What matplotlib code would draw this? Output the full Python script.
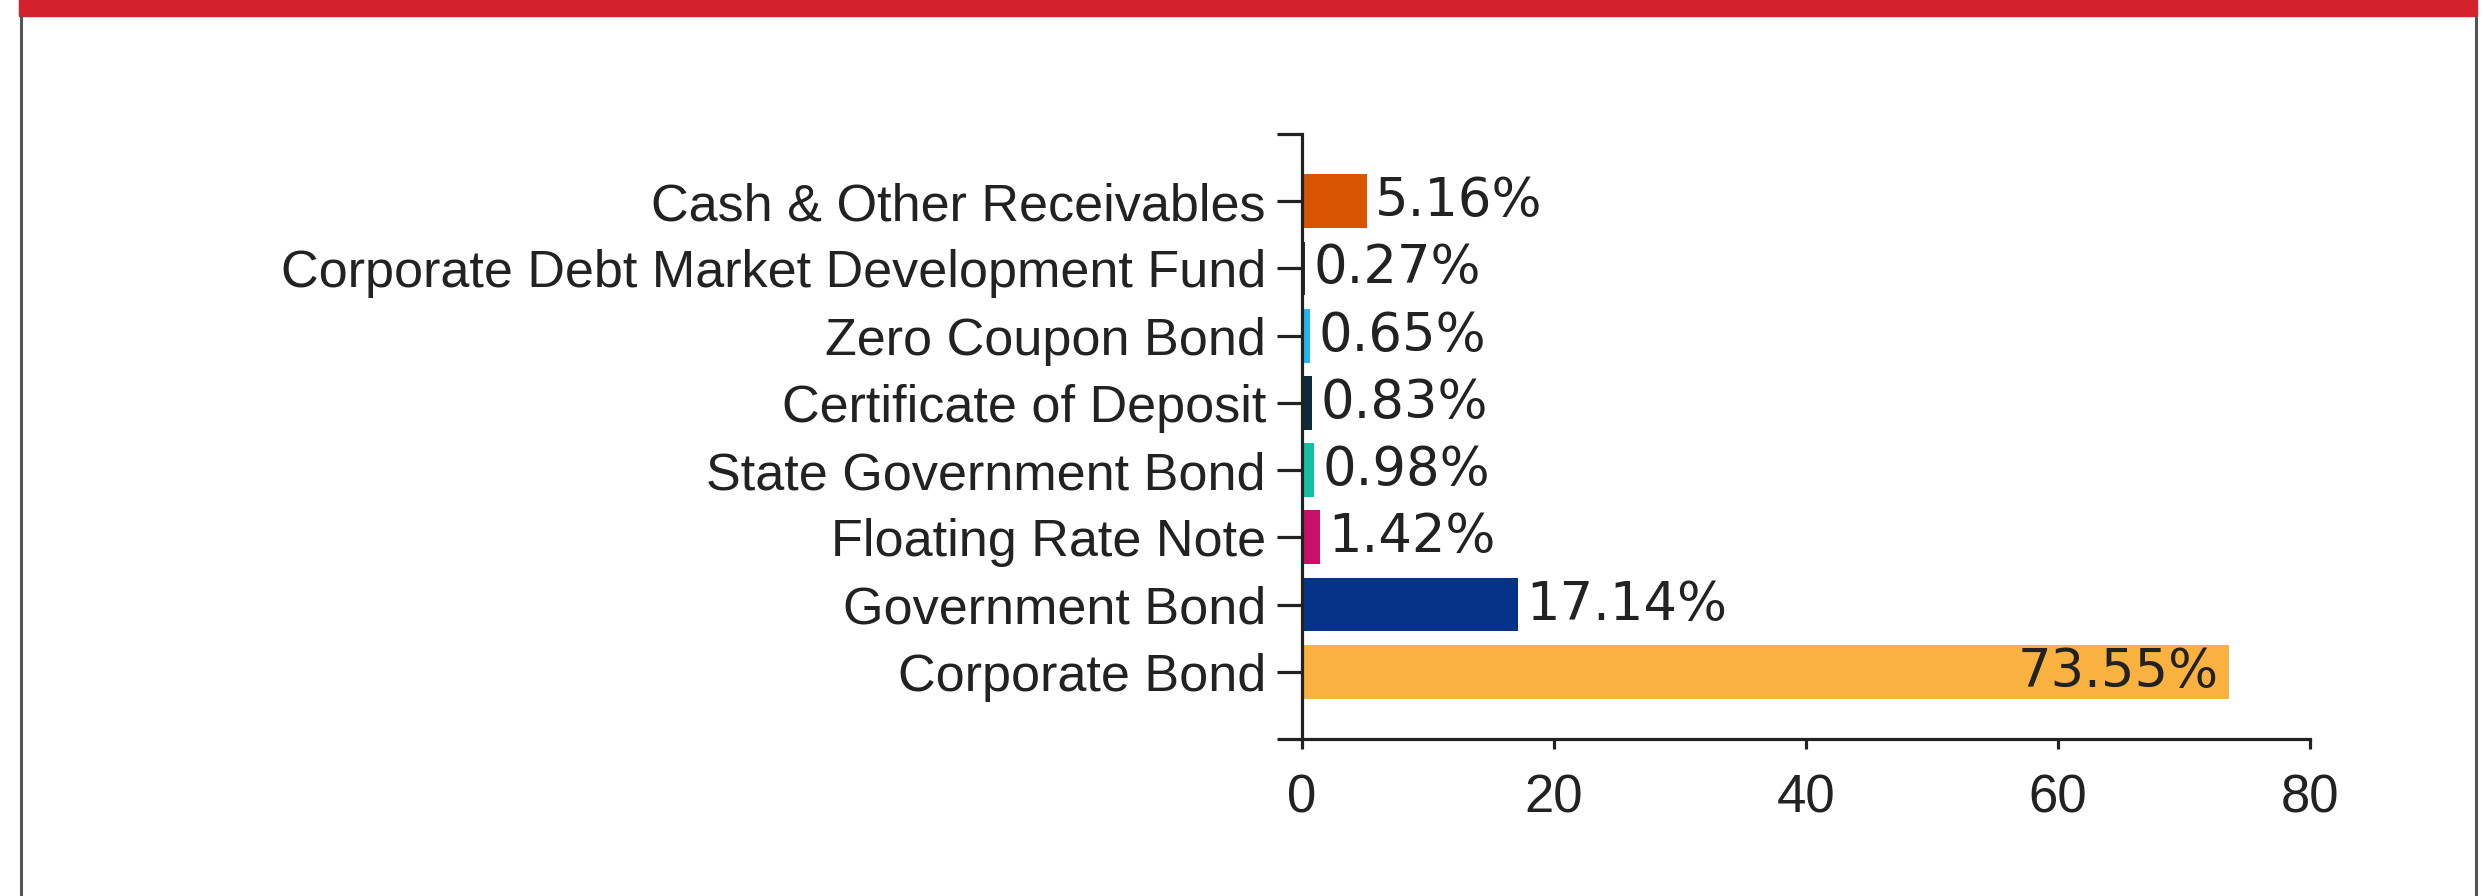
import matplotlib.pyplot as plt
from matplotlib.patches import Rectangle
from matplotlib.lines import Line2D

categories = ["Corporate Bond", "Government Bond", "Floating Rate Note",
              "State Government Bond", "Certificate of Deposit", "Zero Coupon Bond",
              "Corporate Debt Market Development Fund", "Cash & Other Receivables"]
values = [73.55, 17.14, 1.42, 0.98, 0.83, 0.65, 0.27, 5.16]
colors = ["#F9B13F", "#06338A", "#C8106A", "#14BFA6", "#0D2A3A", "#22B8EE", "#2A2A2A", "#D95400"]
xticks = [0, 20, 40, 60, 80]

plt.rcParams['font.family'] = ['Liberation Sans', 'DejaVu Sans']

W, H = 2483, 896
fig = plt.figure(figsize=(W / 100, H / 100), dpi=100)

# red top band and grey side borders
fig.patches.append(Rectangle((19 / W, 1 - 16 / H), (2477 - 19) / W, 16 / H,
                             transform=fig.transFigure, color="#D3222C", zorder=0))
fig.lines.append(Line2D([21 / W, 21 / W], [0, 1 - 16 / H], transform=fig.transFigure,
                        color="#555555", lw=2.2))
fig.lines.append(Line2D([2476 / W, 2476 / W], [0, 1 - 16 / H], transform=fig.transFigure,
                        color="#555555", lw=2.2))

ax = fig.add_axes([1302 / W, 1 - 739 / H, (2310 - 1302) / W, (739 - 134) / H])
y = list(range(len(categories)))
ax.barh(y, values, height=0.8, color=colors)

ax.set_xlim(0, 80)
ax.set_ylim(-1, 8)
ax.set_xticks(xticks)
ax.set_xticklabels([str(t) for t in xticks])
ax.set_yticks([-1] + y + [8])
ax.set_yticklabels([""] + categories + [""])

for s in ["top", "right"]:
    ax.spines[s].set_visible(False)
for s in ["left", "bottom"]:
    ax.spines[s].set_linewidth(2.3)
    ax.spines[s].set_color("#222222")

ax.tick_params(axis="y", length=18, width=2.3, color="#222222", labelsize=37.5,
               labelcolor="#222222", pad=8)
ax.tick_params(axis="x", length=7, width=2.3, color="#222222", labelsize=38,
               labelcolor="#222222", pad=18)

for yi, v in zip(y, values):
    if v > 50:
        ax.annotate(f"{v:.2f}%", (v, yi), xytext=(-7, 0), textcoords="offset points",
                    ha="right", va="center", fontsize=38, color="#222222",
                    family="DejaVu Sans")
    else:
        ax.annotate(f"{v:.2f}%", (v, yi), xytext=(6, 0), textcoords="offset points",
                    ha="left", va="center", fontsize=38, color="#222222",
                    family="DejaVu Sans")

fig.savefig("out.png", dpi=100)
